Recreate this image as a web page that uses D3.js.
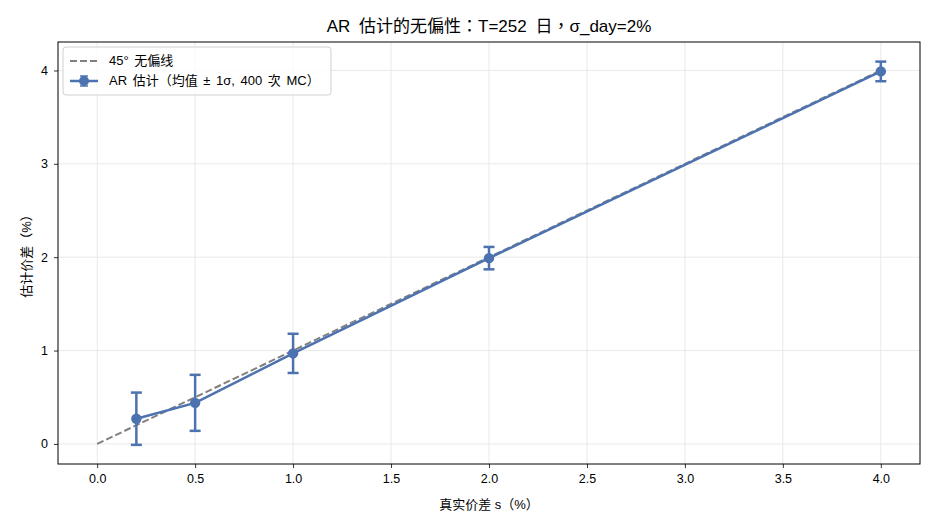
<!DOCTYPE html>
<html>
<head>
<meta charset="utf-8">
<script src="https://cdn.jsdelivr.net/npm/d3@7"></script>
<style>
  body { margin: 0; background: #fff; }
  svg text { font-family: "Liberation Sans", "Noto Sans CJK TC", sans-serif; fill: #000; }
</style>
</head>
<body>
<svg id="chart" width="935" height="528"></svg>
<script>
// true spread s (%)
var trueSpread = [0.2, 0.5, 1.0, 2.0, 4.0];
// AR estimate mean (%)
var estMean = [0.27, 0.44, 0.97, 1.99, 3.99];
// 1 sigma across 400 MC runs
var estStd = [0.28, 0.30, 0.21, 0.12, 0.105];
var xTicks = [0, 0.5, 1, 1.5, 2, 2.5, 3, 3.5, 4];
var yTicks = [0, 1, 2, 3, 4];

var svg = d3.select('#chart');
var margin = {left: 58, right: 15, top: 42, bottom: 64};
var W = 935, H = 528;

var x = d3.scaleLinear().domain([-0.2, 4.2]).range([margin.left, W - margin.right]);
var y = d3.scaleLinear().domain([-0.215, 4.305]).range([H - margin.bottom, margin.top]);

var color = '#4c72b0';

// grid
var grid = svg.append('g');
grid.selectAll('line.gx').data(xTicks).enter().append('line')
  .attr('x1', d => x(d)).attr('x2', d => x(d))
  .attr('y1', margin.top).attr('y2', H - margin.bottom)
  .attr('stroke', '#e3e3e3').attr('stroke-width', 0.8);
grid.selectAll('line.gy').data(yTicks).enter().append('line')
  .attr('y1', d => y(d)).attr('y2', d => y(d))
  .attr('x1', margin.left).attr('x2', W - margin.right)
  .attr('stroke', '#e3e3e3').attr('stroke-width', 0.8);

// 45 degree line
svg.append('line')
  .attr('x1', x(0)).attr('y1', y(0))
  .attr('x2', x(4)).attr('y2', y(4))
  .attr('stroke', '#808080').attr('stroke-width', 2)
  .attr('stroke-dasharray', '7,3');

// error bars
var eb = svg.append('g').attr('stroke', color).attr('stroke-width', 2.5);
trueSpread.forEach(function(s, i) {
  var lo = y(estMean[i] - estStd[i]), hi = y(estMean[i] + estStd[i]);
  eb.append('line').attr('x1', x(s)).attr('x2', x(s)).attr('y1', lo).attr('y2', hi);
  eb.append('line').attr('x1', x(s) - 5.5).attr('x2', x(s) + 5.5).attr('y1', lo).attr('y2', lo);
  eb.append('line').attr('x1', x(s) - 5.5).attr('x2', x(s) + 5.5).attr('y1', hi).attr('y2', hi);
});

// line + markers
var pts = trueSpread.map((s, i) => [s, estMean[i]]);
svg.append('path')
  .attr('d', d3.line().x(d => x(d[0])).y(d => y(d[1]))(pts))
  .attr('fill', 'none').attr('stroke', color).attr('stroke-width', 2.5);
svg.selectAll('circle.pt').data(pts).enter().append('circle')
  .attr('cx', d => x(d[0])).attr('cy', d => y(d[1])).attr('r', 5.2)
  .attr('fill', color);

// axes
var xAxis = d3.axisBottom(x).tickValues(xTicks).tickFormat(d3.format('.1f')).tickSize(4).tickPadding(6);
var yAxis = d3.axisLeft(y).tickValues(yTicks).tickFormat(d3.format('d')).tickSize(4).tickPadding(6);
var gx = svg.append('g').attr('transform', 'translate(0,' + (H - margin.bottom) + ')').call(xAxis);
var gy = svg.append('g').attr('transform', 'translate(' + margin.left + ',0)').call(yAxis);
[gx, gy].forEach(function(g) {
  g.select('.domain').remove();
  g.selectAll('text').attr('font-size', 12.5).attr('fill', '#000')
    .style('font-family', '"Liberation Sans", "Noto Sans CJK TC", sans-serif');
  g.selectAll('line').attr('stroke', '#000').attr('stroke-width', 0.8);
});

// frame
svg.append('rect')
  .attr('x', margin.left).attr('y', margin.top)
  .attr('width', W - margin.left - margin.right)
  .attr('height', H - margin.top - margin.bottom)
  .attr('fill', 'none').attr('stroke', '#000').attr('stroke-width', 1);

// titles
svg.append('text').attr('x', (margin.left + W - margin.right) / 2).attr('y', 32)
  .attr('text-anchor', 'middle').attr('font-size', 17).attr('word-spacing', 4)
  .text('AR 估计的无偏性：T=252 日，σ_day=2%');
svg.append('text').attr('x', (margin.left + W - margin.right) / 2).attr('y', 509)
  .attr('text-anchor', 'middle').attr('font-size', 13)
  .text('真实价差 s（%）');
svg.append('text')
  .attr('transform', 'translate(31,' + ((margin.top + H - margin.bottom) / 2) + ') rotate(-90)')
  .attr('text-anchor', 'middle').attr('font-size', 13)
  .text('估计价差（%）');

// legend
var lg = svg.append('g').attr('transform', 'translate(63,47)');
lg.append('rect').attr('width', 268).attr('height', 48).attr('rx', 3)
  .attr('fill', '#fff').attr('fill-opacity', 0.8)
  .attr('stroke', '#d0d0d0').attr('stroke-width', 1);
lg.append('line').attr('x1', 7).attr('x2', 35).attr('y1', 14).attr('y2', 14)
  .attr('stroke', '#808080').attr('stroke-width', 2).attr('stroke-dasharray', '7,3');
lg.append('text').attr('x', 46).attr('y', 18).attr('font-size', 13).attr('word-spacing', 2).text('45° 无偏线');
lg.append('line').attr('x1', 7).attr('x2', 35).attr('y1', 34).attr('y2', 34)
  .attr('stroke', color).attr('stroke-width', 2.5);
lg.append('line').attr('x1', 21).attr('x2', 21).attr('y1', 29).attr('y2', 39)
  .attr('stroke', color).attr('stroke-width', 2.5);
lg.append('line').attr('x1', 17).attr('x2', 25).attr('y1', 29).attr('y2', 29)
  .attr('stroke', color).attr('stroke-width', 1.5);
lg.append('line').attr('x1', 17).attr('x2', 25).attr('y1', 39).attr('y2', 39)
  .attr('stroke', color).attr('stroke-width', 1.5);
lg.append('circle').attr('cx', 21).attr('cy', 34).attr('r', 5).attr('fill', color);
lg.append('text').attr('x', 46).attr('y', 38).attr('font-size', 13).attr('word-spacing', 2).text('AR 估计（均值 ± 1σ, 400 次 MC）');
</script>
</body>
</html>
